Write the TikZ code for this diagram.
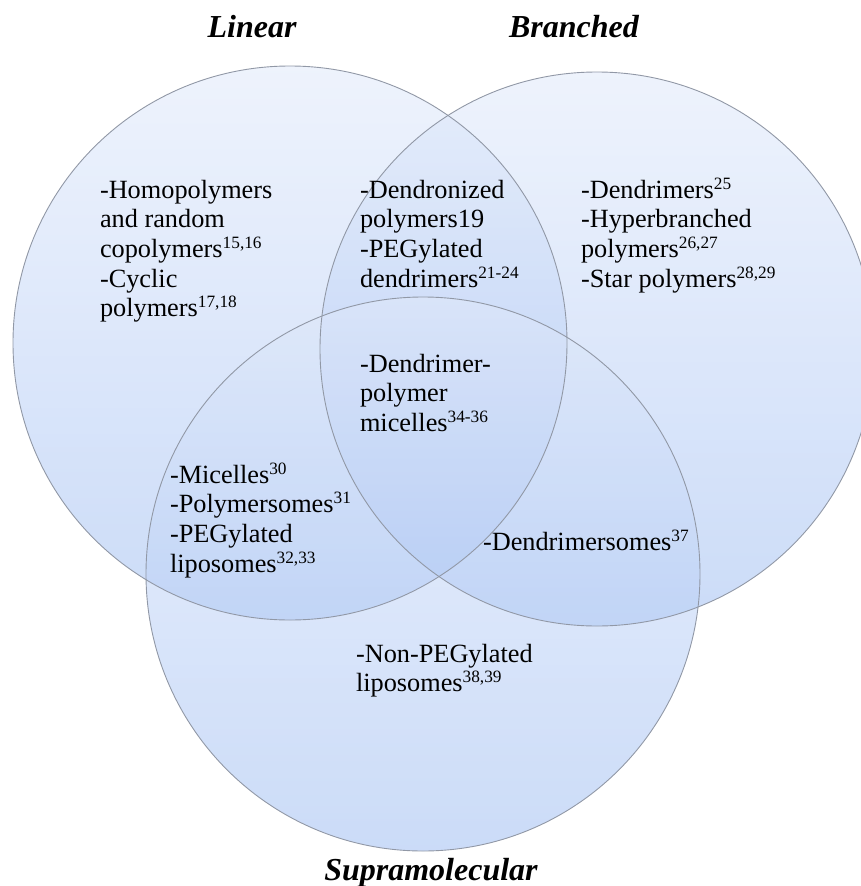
\documentclass[tikz,border=0pt]{standalone}
\usepackage{fontspec}
\setmainfont{Liberation Serif}
\newcommand{\supref}[1]{\raisebox{9pt}{\fontsize{17.3}{17.3}\selectfont #1}}
\definecolor{circtop}{RGB}{224,233,250}
\definecolor{circbot}{RGB}{160,190,242}
\definecolor{circline}{RGB}{145,152,166}
\tikzset{
  setcircle/.style={top color=circtop, bottom color=circbot, fill opacity=0.55},
  rim/.style={draw=circline, line width=0.9pt},
  body/.style={anchor=north west, inner sep=0pt, outer sep=0pt, align=left,
    font=\fontsize{26.3}{29.7}\selectfont},
  head/.style={anchor=base, inner sep=0pt, outer sep=0pt,
    font=\fontsize{32}{36}\selectfont\bfseries\itshape},
}
\begin{document}
\begin{tikzpicture}[x=1pt,y=-1pt]
\useasboundingbox (0,0) rectangle (861,886);
\clip (0,0) rectangle (861,886);
% circle centres
\coordinate (cL) at (290,343);
\coordinate (cR) at (597,349);
\coordinate (cS) at (423,574);
% fills
\shade[setcircle] (cL) circle (277pt);
\shade[setcircle] (cR) circle (277pt);
\shade[setcircle] (cS) circle (277pt);
% outlines
\draw[rim] (cL) circle (277pt);
\draw[rim] (cR) circle (277pt);
\draw[rim] (cS) circle (277pt);
% headings
\node[head] (hL) at (252,37) {Linear};
\node[head] (hB) at (574,37) {Branched};
\node[head] (hS) at (431,880) {Supramolecular};
% texts
\node[body] (tA) at (100,176) {\rule{0pt}{22pt}-Homopolymers\\and random\\copolymers\supref{15,16}\\-Cyclic\\polymers\supref{17,18}};
\node[body] (tB) at (360,176) {\rule{0pt}{22pt}-Dendronized\\polymers19\\-PEGylated\\dendrimers\supref{21-24}};
\node[body] (tC) at (581,176) {\rule{0pt}{22pt}-Dendrimers\supref{25}\\-Hyperbranched\\polymers\supref{26,27}\\-Star polymers\supref{28,29}};
\node[body] (tD) at (360,350) {\rule{0pt}{22pt}-Dendrimer-\\polymer\\micelles\supref{34-36}};
\node[body] (tE) at (170,461) {\rule{0pt}{22pt}-Micelles\supref{30}\\-Polymersomes\supref{31}\\-PEGylated\\liposomes\supref{32,33}};
\node[body] (tF) at (483,528) {\rule{0pt}{22pt}-Dendrimersomes\supref{37}};
\node[body] (tG) at (356,640) {\rule{0pt}{22pt}-Non-PEGylated\\liposomes\supref{38,39}};
\end{tikzpicture}
\end{document}
